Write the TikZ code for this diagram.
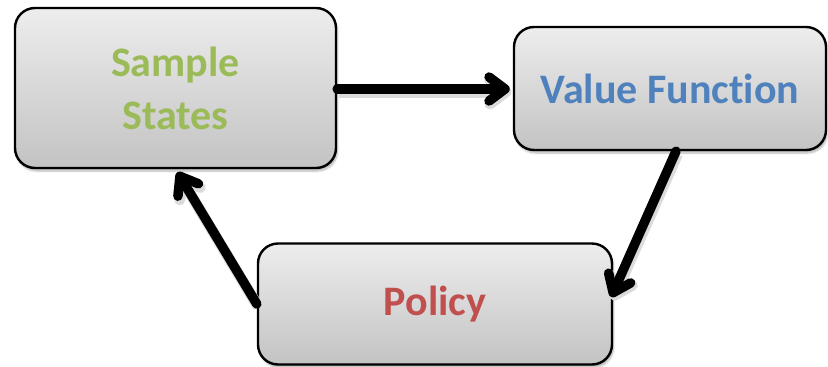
\documentclass[tikz,border=0pt]{standalone}
\usepackage{fontspec}
\setmainfont[Ligatures=NoCommon]{Carlito}
\usetikzlibrary{arrows.meta,shadows.blur}
\definecolor{stategreen}{HTML}{9BBB59}
\definecolor{valueblue}{HTML}{4F81BD}
\definecolor{policyred}{HTML}{C0504D}
\definecolor{boxtop}{HTML}{EDEDED}
\definecolor{boxbottom}{HTML}{C3C3C3}
\tikzset{
  stagebox/.style={draw=black, line width=2.4pt, rounded corners=20pt,
    top color=boxtop, bottom color=boxbottom,
    blur shadow={shadow xshift=1.5pt, shadow yshift=-3pt, shadow blur steps=6, shadow opacity=30},
    align=center, font=\bfseries\fontsize{42}{53}\selectfont},
  flow/.style={line width=9.5pt, line cap=round,
    -{Straight Barb[length=16pt, width=24pt, round]},
    preaction={draw=black!14, line width=11pt, transform canvas={xshift=1.5pt, yshift=-3pt}}},
}
\begin{document}
\begin{tikzpicture}[x=1pt, y=-1pt]
  \useasboundingbox (0,0) rectangle (828,367);
  \node[stagebox, minimum width=321pt, minimum height=160pt, text=stategreen]
    (ss) at (175.5,88) {Sample\\States};
  \node[stagebox, minimum width=312pt, minimum height=123pt, text=valueblue]
    (vf) at (670,88.5) {Value Function};
  \node[stagebox, minimum width=354pt, minimum height=121pt, text=policyred]
    (po) at (435,304) {Policy};
  \draw[flow] ([yshift=-1pt]ss.east) -- ([yshift=-0.5pt, xshift=-3pt]vf.west);
  \draw[flow] ([xshift=6pt]vf.south) -- ([yshift=7pt, xshift=-2pt]po.east);
  \draw[flow] (po.west) -- ([xshift=2pt, yshift=-3pt]ss.south);
\end{tikzpicture}
\end{document}
